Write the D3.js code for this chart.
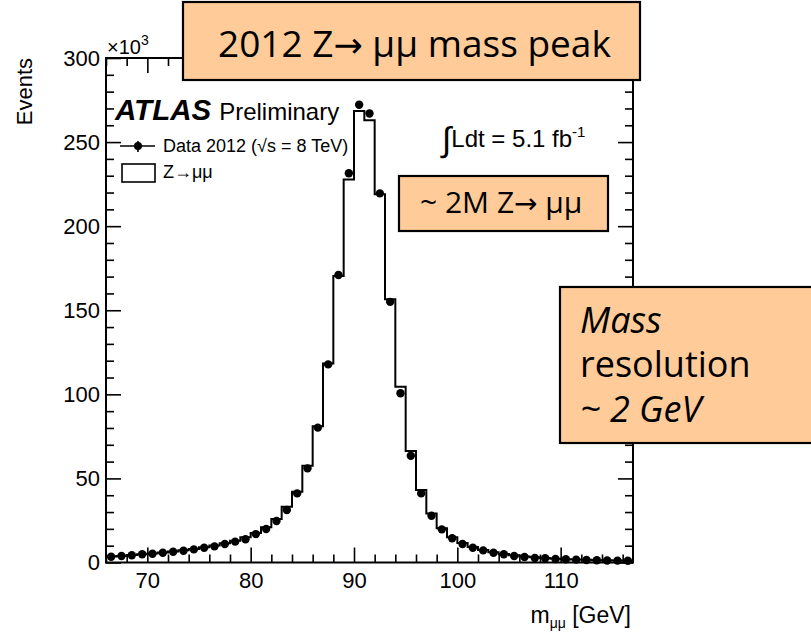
<!DOCTYPE html>
<html>
<head>
<meta charset="utf-8">
<script src="https://cdn.jsdelivr.net/npm/d3@7"></script>
<style>
  body { margin: 0; background: #fff; }
  svg { display: block; }
  .plot-text { font-family: "Liberation Sans", Arial, Helvetica, sans-serif; fill: #000; }
  .note-text { font-family: "Comic Sans MS", "Open Sans", "Noto Sans", sans-serif; fill: #000; }
  .arrow { font-family: "DejaVu Sans", sans-serif; }
</style>
</head>
<body>
<svg id="chart" width="811" height="632"></svg>
<script>
// Dimuon invariant mass, 1 GeV bins (lower bin edges, GeV)
const binLow = [66, 67, 68, 69, 70, 71, 72, 73, 74, 75, 76, 77, 78, 79, 80, 81, 82, 83, 84, 85,
                86, 87, 88, 89, 90, 91, 92, 93, 94, 95, 96, 97, 98, 99, 100, 101, 102, 103, 104, 105,
                106, 107, 108, 109, 110, 111, 112, 113, 114, 115, 116];
const binWidth = 1;

// Observed events per bin (thousands)
const dataEvents = [3.4, 3.9, 4.3, 4.9, 5.2, 5.8, 6.4, 7.0, 7.8, 8.8, 9.6, 11.0, 12.4, 13.8, 16.9, 19.9, 24.7, 31.2, 41.1, 56.0,
                    80.2, 117.8, 171.0, 231.5, 272.2, 267.0, 219.5, 155.0, 100.6, 63.5, 41.1, 27.8, 19.7, 14.4, 11.0, 8.8, 7.2, 5.8, 4.9, 3.9,
                    3.3, 2.7, 2.5, 2.1, 1.9, 1.7, 1.5, 1.3, 1.2, 1.1, 1.0];

// Simulated Z -> mumu per bin (thousands)
const mcEvents = [3.5, 3.9, 4.4, 4.9, 5.4, 6.0, 6.6, 7.3, 8.1, 9.0, 10.1, 11.4, 13.0, 15.0, 17.6, 21.0, 25.9, 33.2, 42.0, 57.5,
                  81.0, 118.4, 170.3, 227.8, 268.5, 263.0, 219.0, 156.6, 104.5, 66.3, 43.1, 29.2, 20.3, 15.0, 11.6, 9.2, 7.5, 6.1, 5.1, 4.3,
                  3.6, 3.1, 2.7, 2.3, 2.0, 1.8, 1.6, 1.4, 1.3, 1.2, 1.1];

const xMajor = [70, 80, 90, 100, 110];
const xMinor = [66, 68, 72, 74, 76, 78, 82, 84, 86, 88, 92, 94, 96, 98, 102, 104, 106, 108, 112, 114, 116];
const yMajor = [0, 50, 100, 150, 200, 250, 300];
const yMinor = [10, 20, 30, 40, 60, 70, 80, 90, 110, 120, 130, 140, 160, 170, 180, 190, 210, 220, 230, 240, 260, 270, 280, 290];

const svg = d3.select("#chart");
const frame = { left: 106, right: 633, top: 58, bottom: 562.5 };

const x = d3.scaleLinear().domain([66, 117]).range([frame.left, frame.right]);
const y = d3.scaleLinear().domain([0, 300]).range([frame.bottom, frame.top]);

const majorLen = 15, minorLen = 8;

function styleAxis(g) {
  g.select(".domain").remove();
  g.selectAll(".tick line").attr("stroke", "#000").attr("stroke-width", 1.6);
  g.selectAll(".tick text").attr("class", "plot-text").attr("font-size", 22).attr("fill", "#000");
}

// Ticks on all four sides, pointing inward
const axes = svg.append("g");
axes.append("g").attr("transform", `translate(0,${frame.bottom})`)
  .call(d3.axisBottom(x).tickValues(xMajor).tickSizeInner(-majorLen).tickSizeOuter(0).tickPadding(10).tickFormat(d3.format("d")))
  .call(styleAxis);
axes.append("g").attr("transform", `translate(0,${frame.bottom})`)
  .call(d3.axisBottom(x).tickValues(xMinor).tickSizeInner(-minorLen).tickSizeOuter(0).tickFormat(""))
  .call(styleAxis);
axes.append("g").attr("transform", `translate(0,${frame.top})`)
  .call(d3.axisTop(x).tickValues(xMajor).tickSizeInner(-majorLen).tickSizeOuter(0).tickFormat(""))
  .call(styleAxis);
axes.append("g").attr("transform", `translate(0,${frame.top})`)
  .call(d3.axisTop(x).tickValues(xMinor).tickSizeInner(-minorLen).tickSizeOuter(0).tickFormat(""))
  .call(styleAxis);
axes.append("g").attr("transform", `translate(${frame.left},0)`)
  .call(d3.axisLeft(y).tickValues(yMajor).tickSizeInner(-majorLen).tickSizeOuter(0).tickPadding(6).tickFormat(d3.format("d")))
  .call(styleAxis);
axes.append("g").attr("transform", `translate(${frame.left},0)`)
  .call(d3.axisLeft(y).tickValues(yMinor).tickSizeInner(-minorLen).tickSizeOuter(0).tickFormat(""))
  .call(styleAxis);
axes.append("g").attr("transform", `translate(${frame.right},0)`)
  .call(d3.axisRight(y).tickValues(yMajor).tickSizeInner(-majorLen).tickSizeOuter(0).tickFormat(""))
  .call(styleAxis);
axes.append("g").attr("transform", `translate(${frame.right},0)`)
  .call(d3.axisRight(y).tickValues(yMinor).tickSizeInner(-minorLen).tickSizeOuter(0).tickFormat(""))
  .call(styleAxis);

// Simulation histogram as a step outline
const mcPoints = binLow.map((lo, i) => [lo, mcEvents[i]]);
mcPoints.push([binLow[binLow.length - 1] + binWidth, mcEvents[mcEvents.length - 1]]);
const stepLine = d3.line().x(d => x(d[0])).y(d => y(d[1])).curve(d3.curveStepAfter);
svg.append("path")
  .attr("d", stepLine(mcPoints))
  .attr("fill", "none")
  .attr("stroke", "#000")
  .attr("stroke-width", 2);

// Data markers at bin centres
svg.append("g").selectAll("circle")
  .data(binLow.map((lo, i) => ({ c: lo + binWidth / 2, v: dataEvents[i] })))
  .join("circle")
  .attr("cx", d => x(d.c))
  .attr("cy", d => y(d.v))
  .attr("r", 4.2)
  .attr("fill", "#000");

// Frame
svg.append("rect")
  .attr("x", frame.left).attr("y", frame.top)
  .attr("width", frame.right - frame.left).attr("height", frame.bottom - frame.top)
  .attr("fill", "none").attr("stroke", "#000").attr("stroke-width", 2);

// Axis titles
svg.append("text").attr("class", "plot-text")
  .attr("transform", `translate(32,${frame.top}) rotate(-90)`)
  .attr("text-anchor", "end").attr("font-size", 22)
  .text("Events");

const xTitle = svg.append("text").attr("class", "plot-text")
  .attr("x", 631).attr("y", 623).attr("text-anchor", "end").attr("font-size", 23);
xTitle.append("tspan").text("m");
xTitle.append("tspan").attr("font-size", 14).attr("dy", 5).text("μμ");
xTitle.append("tspan").attr("dy", -5).text(" [GeV]");

const scaleLabel = svg.append("text").attr("class", "plot-text")
  .attr("x", 107).attr("y", 54).attr("font-size", 20);
scaleLabel.append("tspan").text("×10");
scaleLabel.append("tspan").attr("font-size", 14).attr("dy", -9).text("3");

// ATLAS label
const atlas = svg.append("text").attr("class", "plot-text").attr("x", 115).attr("y", 120);
atlas.append("tspan").attr("font-size", 29.5).attr("font-weight", "bold").attr("font-style", "italic").text("ATLAS");
atlas.append("tspan").attr("font-size", 24).attr("dx", 8).text("Preliminary");

// Legend
svg.append("line").attr("x1", 120).attr("x2", 155).attr("y1", 146).attr("y2", 146)
  .attr("stroke", "#000").attr("stroke-width", 1.6);
svg.append("line").attr("x1", 138).attr("x2", 138).attr("y1", 141).attr("y2", 152)
  .attr("stroke", "#000").attr("stroke-width", 1.6);
svg.append("circle").attr("cx", 138).attr("cy", 146).attr("r", 4).attr("fill", "#000");
svg.append("text").attr("class", "plot-text").attr("x", 163).attr("y", 152).attr("font-size", 18)
  .text("Data 2012 (√s = 8 TeV)");
svg.append("rect").attr("x", 122).attr("y", 164).attr("width", 33).attr("height", 18)
  .attr("fill", "#fff").attr("stroke", "#000").attr("stroke-width", 1.6);
svg.append("text").attr("class", "plot-text").attr("x", 163).attr("y", 178).attr("font-size", 18)
  .text("Z→μμ");

// Integrated luminosity
const lumi = svg.append("text").attr("class", "plot-text").attr("x", 442).attr("y", 147).attr("font-size", 24);
lumi.append("tspan").attr("font-size", 34).attr("dy", 4).text("∫");
lumi.append("tspan").attr("dy", -4).text("Ldt = 5.1 fb");
lumi.append("tspan").attr("font-size", 15).attr("dy", -10).text("-1");

// Annotation boxes
const noteFill = "#ffcc99";
function noteBox(x0, y0, w, h) {
  svg.append("rect").attr("x", x0).attr("y", y0).attr("width", w).attr("height", h)
    .attr("fill", noteFill).attr("stroke", "#000").attr("stroke-width", 2.2);
}

noteBox(183, 2, 457, 78);
const title = svg.append("text").attr("class", "note-text").attr("x", 218).attr("y", 57).attr("font-size", 37);
title.append("tspan").text("2012 Z");
title.append("tspan").attr("class", "arrow").attr("font-size", 35).text("→");
title.append("tspan").text(" μμ mass peak");

noteBox(399, 176, 209, 55);
const count = svg.append("text").attr("class", "note-text").attr("x", 420).attr("y", 213).attr("font-size", 30);
count.append("tspan").text("~ 2M Z");
count.append("tspan").attr("class", "arrow").attr("font-size", 28).text("→");
count.append("tspan").text(" μμ");

noteBox(560, 287, 260, 156);
const res = svg.append("text").attr("class", "note-text").attr("font-size", 36);
res.append("tspan").attr("x", 580).attr("y", 333).attr("font-style", "italic").text("Mass");
res.append("tspan").attr("x", 580).attr("y", 377).text("resolution");
res.append("tspan").attr("x", 580).attr("y", 422).attr("font-style", "italic").text("~ 2 GeV");
</script>
</body>
</html>
